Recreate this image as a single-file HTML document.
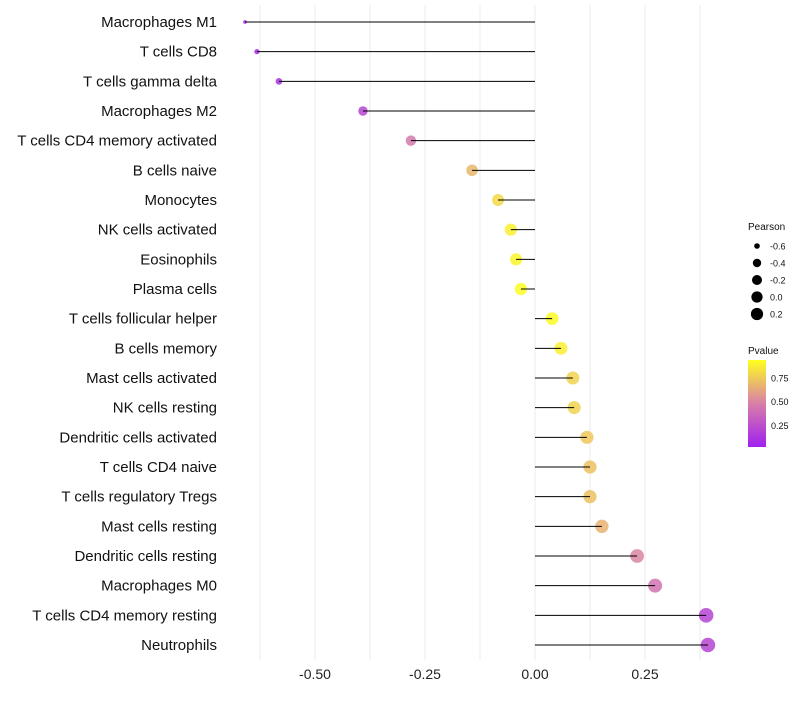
<!DOCTYPE html>
<html><head><meta charset="utf-8"><style>
body{margin:0;background:#fff;font-family:"Liberation Sans",sans-serif}
</style></head><body>
<svg id="chart" width="800" height="700" xmlns="http://www.w3.org/2000/svg" font-family="Liberation Sans, sans-serif">
<defs><linearGradient id="pg" x1="0" y1="1" x2="0" y2="0">
<stop offset="0" stop-color="#a020f0"/><stop offset="0.5" stop-color="#d87fa8"/><stop offset="1" stop-color="#ffff20"/></linearGradient></defs>
<g id="grid"></g><g id="points"></g><g id="marks"></g><g id="labels"></g><g id="legend"></g>
</svg>
<script>
const categories=["Macrophages M1","T cells CD8","T cells gamma delta","Macrophages M2","T cells CD4 memory activated","B cells naive","Monocytes","NK cells activated","Eosinophils","Plasma cells","T cells follicular helper","B cells memory","Mast cells activated","NK cells resting","Dendritic cells activated","T cells CD4 naive","T cells regulatory  Tregs ","Mast cells resting","Dendritic cells resting","Macrophages M0","T cells CD4 memory resting","Neutrophils"];
const pearson=[-0.659,-0.632,-0.582,-0.391,-0.282,-0.143,-0.084,-0.055,-0.043,-0.032,0.039,0.059,0.086,0.089,0.118,0.125,0.125,0.152,0.232,0.273,0.389,0.393];
const pvalues=[0.05,0.07,0.1,0.2,0.45,0.68,0.8,0.88,0.9,0.93,0.92,0.88,0.78,0.78,0.74,0.72,0.72,0.66,0.5,0.42,0.2,0.2];
const xTicks=[-0.5,-0.25,0,0.25];
const xTickLabels=["-0.50","-0.25","0.00","0.25"];
const sizeLegend=[-0.6,-0.4,-0.2,0.0,0.2];
const sizeLegendLabels=["-0.6","-0.4","-0.2","0.0","0.2"];
const pTicks=[0.25,0.5,0.75];
const pTickLabels=["0.25","0.50","0.75"];

const NS="http://www.w3.org/2000/svg";
const x=v=>535+v*440;
const y=i=>22+i*(623/21);
const rad=v=>{const t=Math.max(0,(v+0.66)/1.05);return Math.sqrt(3+50*Math.pow(t,0.7));};
function lerp(a,b,t){return a.map((c,i)=>Math.round(c+(b[i]-c)*t));}
function col(p){const t=Math.max(0,Math.min(1,(p-0.02)/0.92));
 const s=[[160,32,240],[216,127,168],[255,255,32]];
 const c=t<0.5?lerp(s[0],s[1],t*2):lerp(s[1],s[2],(t-0.5)*2);return `rgb(${c})`;}
function mk(tag,attrs,parent,text){const e=document.createElementNS(NS,tag);for(const k in attrs)e.setAttribute(k,attrs[k]);if(text!==undefined)e.textContent=text;document.getElementById(parent).appendChild(e);return e;}

for(let g=-0.625;g<=0.45;g+=0.125){
 const l=mk('line',{x1:x(g),x2:x(g),y1:5,y2:660,stroke:'#ebebeb','stroke-width':1},'grid');
 
 
}
xTicks.forEach((t,i)=>{
 const e=mk('text',{x:x(t),y:679,'font-size':14,'text-anchor':'middle',fill:'#222'},'labels',xTickLabels[i]);
 
 
});
categories.forEach((c,i)=>{
 const e=mk('text',{x:217,y:y(i)+5,'font-size':15,'text-anchor':'end',fill:'#111'},'labels',c);
 
 
 const ci=mk('circle',{cx:x(pearson[i]),cy:y(i),r:rad(pearson[i]),fill:col(pvalues[i]),'fill-opacity':0.85},'points');
 
 
 const ln=mk('line',{x1:x(0),x2:x(pearson[i]),y1:y(i),y2:y(i),stroke:'#000','stroke-width':1},'marks');
 
 
});
let t=mk('text',{x:748,y:230,'font-size':10,fill:'#111'},'legend','Pearson');


sizeLegend.forEach((v,i)=>{
 const cy=246+i*17;
 const c=mk('circle',{cx:757,cy:cy,r:rad(v)*0.9,fill:'#000'},'legend');
 
 
 const l=mk('text',{x:770,y:cy+3.5,'font-size':9,fill:'#111'},'legend',sizeLegendLabels[i]);
 
 
});
t=mk('text',{x:748,y:354,'font-size':10,fill:'#111'},'legend','Pvalue');


const bar=mk('rect',{x:748,y:360,width:18,height:87,fill:'url(#pg)'},'legend');


const py=p=>447-(p-0.02)*(87/0.92);
pTicks.forEach((p,i)=>{
 const l=mk('text',{x:771,y:py(p)+3.5,'font-size':9,fill:'#111'},'legend',pTickLabels[i]);
 
 
});
</script>
</body></html>
